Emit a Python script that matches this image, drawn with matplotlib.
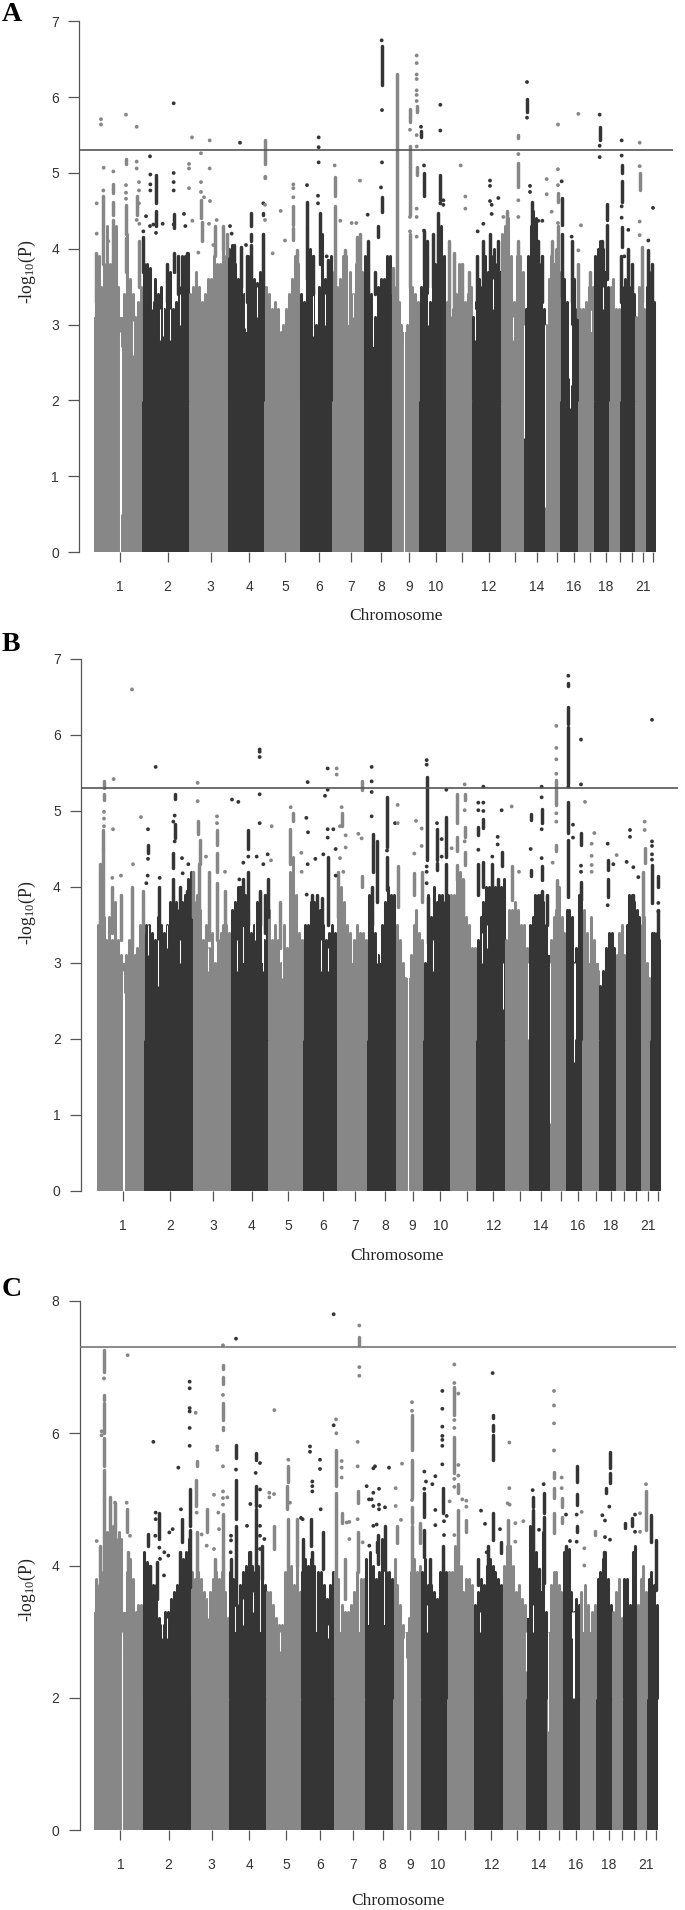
import numpy as np
import matplotlib
matplotlib.use("Agg")
import matplotlib.pyplot as plt

GRAY = "#878787"
DARK = "#353535"
LINE = "#555555"
W, H = 685, 1910

tick_labels = ["1","2","3","4","5","6","7","8","9","10","","12","","14","","16","","18","","","21",""]

A_bounds = [43,187,327,443,553,659,757,851,935,1018,1097,1176,1263,1333,1395,1441,1495,1542,1588,1621,1665,1697,1727]
A_ticks = [120,263,392,507,616,718,813,904,987,1068,1146,1226,1305,1370,1431,1481,1531,1578,1619,1655,1689,1720]
A_floor = [3.1,2.7,2.9,2.9,2.7,2.8,3.0,2.7,2.9,3.2,2.9,2.7,3.0,3.0,2.9,2.5,2.9,3.0,2.6,2.9,2.9,2.9]
A_tops = [
 [3.5,3.9,3.5,3.8,4.3,3.8,3.7,4.3,3.5,2.8,3.4,4.2,3.6,3.4,3.1,3.3,3.5],
 [3.8,3.8,3.75,3.3,3.6,3.4,3.5,3.2,3.4,3.7,3.2,3.3,3.5,3.9,3.9,3.95],
 [3.4,3.5,3.7,3.5,3.3,3.4,3.6,3.6,3.9,3.8,3.8,4.0,3.9],
 [4.0,4.05,3.8,3.6,4.03,3.4,3.9,3.9,3.6,3.55,3.7,4.2],
 [3.5,3.4,3.2,3.3,3.2,2.9,3.0,3.2,3.4,3.6,3.9,3.8],
 [3.4,3.3,4.3,4.0,3.5,3.0,3.5,4.2,3.6,3.5,3.9],
 [3.7,3.5,3.6,3.9,3.9,3.7,3.4,3.8,3.9,3.7],
 [3.9,3.8,3.4,3.1,3.5,3.6,3.6,3.9,3.9],
 [3.4,3.5,3.3,3.0,2.2,3.0,3.6,3.5,3.4,3.3],
 [3.5,3.6,3.9,3.3,3.5,3.8,4.2,4.3,3.9],
 [3.3,3.1,3.2,3.4,3.8,3.5,3.3,3.4,3.5],
 [3.1,3.3,3.6,3.5,3.9,3.7,3.9,4.0,3.8,3.7],
 [4.2,4.3,4.4,3.9,3.3,3.9,3.9,3.7],
 [3.2,3.9,4.3,4.5,4.4,3.8,3.4,3.2],
 [3.0,3.6,3.9,3.8,4.0,3.7],
 [3.7,3.6,3.3,2.9,3.4,3.6,3.2],
 [3.2,3.2,3.3,3.5,3.5],
 [3.9,4.0,4.1,4.0,3.7,3.5],
 [3.5,3.6,3.2,3.2],
 [3.5,3.6,3.4,3.5,3.4],
 [3.1,3.5,3.6,3.2],
 [3.5,3.7,3.4,3.3],
]
A_stems = [(70,4.42,4.69),(70,3.8,4.4),(100,4.74,4.86),(100,4.45,4.62),(100,3.7,4.38),(138,4.2,4.58),(138,3.7,4.14),(138,5.12,5.19),(48,3.3,3.95),
 (228,4.3,4.5),(228,4.6,4.97),(190,3.7,4.15),(281,4.28,4.46),(281,3.7,3.95),(320,3.7,3.95),(295,3.4,3.9),(262,3.3,3.8),(172,4.45,4.7),(178,3.5,4.1),
 (363,4.4,4.65),(365,4.1,4.35),(405,3.9,4.3),(428,4.0,4.3),(440,3.9,4.2),(462,3.6,4.05),(483,3.5,4.03),(513,4.3,4.47),(513,4.1,4.2),(512,3.6,4.05),(500,3.3,3.9),(548,3.5,4.2),(556,5.12,5.43),(550,4.45,4.47),(640,4.31,4.56),(640,4.12,4.27),(652,3.6,3.98),(681,3.6,4.62),(720,3.8,4.47),(700,3.4,3.9),(745,3.4,3.85),
 (764,4.7,4.95),(764,3.2,4.57),(795,3.4,3.98),(830,3.5,4.15),(840,3.5,4.2),(863,3.4,4.1),(885,3.4,3.7),
 (905,6.16,6.67),(905,4.48,4.68),(895,4.15,4.3),(938,3.4,3.75),(950,3.0,6.31),(990,5.67,5.85),(990,5.08,5.35),(990,4.45,5.08),(990,3.5,4.2),(1010,5.81,5.88),(1010,4.97,5.08),(1023,5.48,5.55),(1032,4.69,5.0),(1032,3.6,4.24),(1081,4.64,4.97),(1075,3.63,4.47),(1060,3.5,4.2),(1040,3.5,4.1),
 (1107,3.1,4.1),(1122,3.2,3.95),(1145,3.3,3.8),(1168,3.2,3.7),(1191,3.2,3.9),(1210,3.4,4.1),(1230,3.5,4.2),(1255,3.5,4.1),(1280,3.9,4.5),(1315,5.46,5.5),(1315,4.82,5.13),(1315,3.6,4.1),(1341,5.81,5.98),(1355,3.81,4.62),(1375,3.5,4.1),(1385,3.3,3.9),(1415,3.5,4.1),(1434,4.62,4.73),(1435,3.5,4.3),(1446,4.31,4.67),(1446,3.37,4.2),(1475,3.3,4.1),(1495,3.1,3.8),(1530,3.2,3.7),
 (1559,5.44,5.61),(1580,4.38,4.59),(1580,3.6,4.31),(1565,3.6,4.1),(1625,4.62,4.89),(1625,5.0,5.1),(1625,4.03,4.29),(1622,3.3,3.9),(1645,3.4,4.0),(1655,3.3,3.8),(1679,4.78,5.0),(1685,3.3,4.03),(1705,3.5,3.98),(1715,3.3,3.8)]
A_points = [(63,5.71),(63,5.64),(138,5.77),(170,5.61),(281,5.92),(336,5.47),(389,5.43),(480,5.4),(363,5.26),(210,5.22),(389,5.06),(71,5.07),(100,5.02),(170,5.15),(170,5.06),(327,5.12),(327,5.06),(281,5.0),(211,4.98),(281,4.88),(281,4.77),(211,4.85),(211,4.77),(327,4.8),(228,4.21),(198,4.43),(248,4.33),(312,4.46),(316,4.3),(281,4.32),(210,4.3),(220,4.32),(190,4.23),(177,4.88),(177,4.77),(177,4.6),(170,4.38),(178,4.33),(85,4.1),(50,4.6),(50,4.2),(70,4.77),(138,4.84),(138,4.74),(138,4.66),
 (363,4.88),(363,4.75),(372,4.68),(390,4.63),(337,4.37),(387,4.33),(410,4.38),(355,3.95),(400,4.05),(450,4.3),(455,4.2),(498,4.05),(550,4.6),(556,4.95),(556,4.93),(555,4.58),(555,4.38),(602,4.5),(615,4.11),(578,3.94),(640,4.85),(640,4.8),(640,4.68),(681,4.84),(714,4.7),(714,4.6),(716,5.47),(716,5.34),(716,5.14),(740,3.9),(764,5.1),(840,4.9),(781,4.37),(815,4.34),(829,4.34),(863,4.45),
 (905,6.75),(906,5.83),(906,5.14),(903,4.81),(990,5.57),(1010,6.55),(1010,6.45),(1010,6.3),(1010,6.24),(1010,6.09),(1010,6.03),(1010,5.95),(1010,5.5),(1010,5.35),(1010,4.53),(1010,4.42),(1010,4.16),(990,4.42),(990,4.23),(1023,5.61),(1032,5.1),(1032,4.24),(1081,5.9),(1081,5.56),(1081,4.6),(1090,4.64),(1090,4.58),(1142,5.1),(1156,4.69),(1156,4.53),(1230,4.9),(1230,4.83),(1230,4.63),(1255,4.67),(1235,4.58),(1235,4.46),(1210,4.33),(1193,4.23),(1270,4.42),(1315,5.25),(1315,4.64),(1315,4.42),(1341,6.2),(1341,5.73),(1350,4.83),(1350,4.75),(1375,4.37),(1387,4.37),(1400,4.92),(1400,4.72),(1415,4.49),(1434,5.64),(1434,5.05),(1434,4.84),(1434,4.34),(1445,4.89),(1495,5.78),(1503,4.31),(1475,4.16),(1495,3.98),
 (1559,5.77),(1559,5.36),(1559,5.21),(1625,5.43),(1625,5.23),(1625,4.56),(1625,4.41),(1679,5.4),(1679,5.09),(1679,4.36),(1679,4.18),(1719,4.54),(1705,4.11),(1645,4.25),(1633,3.9)]
A_gaps = [(121,0,2.9),(123,0.5,2.7),(971,0,3.0),(973,0,2.8),(1396,0.6,3.0),(1299,2.8,3.1),(1468,2.3,3.0),(1470,1.9,3.0),(1472,2.2,3.0),(1332,1.5,3.0),
 (240,2.8,3.2),(250,2.85,3.3),(270,2.8,3.2),(495,2.95,3.55),(700,2.85,3.5),(820,3.1,3.4),(880,2.8,3.55),(160,2.6,3.05),(1045,3.0,3.4),(1185,2.8,3.2),(1240,3.2,3.6),(1570,3.2,3.5),(215,3.2,3.5),(300,3.0,3.4),(530,3.1,3.5),(735,3.0,3.4)]

B_bounds = [50,193,338,452,564,670,770,862,947,1030,1109,1189,1275,1346,1409,1457,1507,1557,1607,1637,1682,1711,1742]
B_ticks = [128,271,400,515,624,728,825,915,998,1081,1160,1240,1319,1383,1444,1494,1547,1593,1632,1668,1703,1734]
B_floor = [3.0,3.0,2.8,3.0,2.8,3.0,3.0,3.0,2.8,2.9,2.9,2.9,3.0,3.1,2.9,2.5,3.0,2.6,2.7,3.0,2.6,2.6]
B_tops = [
 [3.5,3.9,3.6,3.3,3.6,3.3,3.8,3.3,3.1,2.8,3.1,3.3,3.5,3.1,3.2,3.5,3.7],
 [3.5,3.5,3.4,3.3,3.6,3.5,3.4,3.5,3.8,3.9,3.8,3.7,3.8,3.9,4.1,4.2],
 [3.8,3.9,3.7,3.3,3.5,3.2,3.4,3.0,3.3,3.4,3.5,3.5,3.4],
 [3.7,3.8,4.0,4.0,3.9,3.7,3.4,3.5,3.8,3.9,3.3,3.6],
 [3.7,3.3,3.5,3.3,3.0,3.5,3.2,4.2,4.4,3.9,3.4,3.3],
 [3.5,3.5,3.8,3.8,3.8,3.7,3.5,3.3,3.4,3.5,3.4],
 [3.9,4.0,3.8,3.5,3.4,3.3,3.5,3.4,3.4,3.3],
 [3.9,3.7,3.4,3.1,3.5,3.8,4.0,3.9,3.9],
 [3.5,3.3,3.0,2.8,2.2,3.1,3.5,3.7,3.4,3.3],
 [3.0,3.9,3.6,4.0,3.8,3.9,3.9,3.8,3.9],
 [3.9,3.9,4.2,4.2,4.1,3.6,3.5,3.2,3.2],
 [3.3,3.6,3.8,4.0,4.0,3.9,4.0,3.9,4.0,4.1],
 [3.3,3.7,3.7,3.8,3.7,3.5,3.5,3.2],
 [3.5,3.6,3.9,3.9,3.9,3.8,3.5,3.0],
 [3.3,3.6,3.7,4.0,3.6,3.4],
 [3.7,3.7,3.6,3.0,3.2,3.9,4.0],
 [3.7,3.4,3.6,3.3,2.9],
 [2.7,2.9,3.2,3.4,3.4,3.2],
 [3.1,3.4,3.5,3.1],
 [3.5,3.9,3.9,3.8,3.7,3.6],
 [3.5,3.6,3.0,2.8],
 [3.4,3.4,3.4,3.3],
]
B_stems = [(72,5.3,5.39),(72,5.15,5.22),(70,4.5,4.75),(68,3.6,4.5),(60,3.5,4.3),(97,3.4,4.0),(123,3.3,3.9),(155,3.2,4.0),(190,3.4,3.95),(285,5.16,5.22),(280,4.25,4.45),(284,4.65,4.83),(278,3.6,4.1),(204,4.45,4.55),(238,3.5,4.0),(300,3.6,4.0),(320,3.6,3.95),(338,3.6,4.2),
 (353,4.7,4.87),(360,4.3,4.62),(356,3.5,4.3),(411,4.55,4.75),(411,4.2,4.45),(411,3.3,4.05),(388,3.3,4.2),(436,3.4,3.95),(505,4.5,4.75),(505,3.5,4.2),(480,3.5,4.0),(490,3.5,4.1),(540,3.5,3.95),(555,3.4,3.9),(563,3.6,4.1),(600,3.2,3.8),(630,4.3,4.76),(639,4.87,4.98),
 (785,4.8,4.98),(775,3.6,4.2),(743,3.5,4.4),(725,3.5,3.85),(710,3.6,3.9),(695,3.5,3.9),(845,5.28,5.39),(845,4.0,4.15),(880,4.2,4.7),(876,3.5,4.0),(890,3.8,4.6),(921,4.53,5.18),(921,3.96,4.4),(953,3.74,4.27),(1040,4.36,5.45),(1043,3.26,3.87),(1003,3.9,4.18),(1025,3.8,4.2),(1071,4.35,4.76),(1071,4.22,4.31),(1099,4.4,4.92),(1097,3.7,4.3),(1130,4.84,5.22),(1130,4.48,4.66),(1130,4.09,4.29),(1154,4.66,4.79),(1154,5.14,5.23),(1154,4.29,4.46),(1150,3.48,4.09),
 (1195,4.68,4.79),(1195,3.9,4.3),(1210,4.77,4.9),(1210,4.0,4.33),(1237,3.8,4.3),(1253,3.6,4.1),(1265,4.27,4.46),(1295,3.83,4.27),(1352,4.14,4.22),(1352,4.88,4.96),(1385,4.84,5.03),(1385,4.09,4.27),(1385,3.5,3.95),(1400,3.5,3.9),(1429,5.08,5.41),(1429,4.47,4.55),(1430,3.48,4.09),(1465,6.64,6.68),(1465,6.15,6.37),(1465,5.36,6.11),(1465,4.71,5.12),(1465,3.87,4.62),(1503,4.55,4.71),(1503,3.83,4.07),(1583,4.22,4.35),(1583,3.87,4.11),(1650,3.4,3.8),(1660,3.4,3.9),(1694,4.31,4.51),(1690,3.5,4.2),(1716,3.79,4.29),(1735,4.0,4.14),(1733,3.3,3.7)]
B_points = [(156,6.6),(227,5.58),(101,5.42),(72,4.99),(72,4.9),(72,4.8),(99,4.76),(183,4.92),(159,4.3),(123,4.15),(97,4.12),(284,4.94),(280,4.86),(284,4.6),(204,4.76),(204,4.37),(203,4.15),(199,4.05),(239,4.12),(306,4.38),(325,4.3),(308,4.18),
 (353,5.37),(353,5.13),(378,4.4),(411,4.93),(411,4.84),(435,4.2),(456,5.15),(475,5.12),(539,5.81),(539,5.78),(539,5.71),(539,5.22),(539,4.84),(575,4.8),(505,4.4),(490,4.32),(478,4.1),(530,4.4),(550,4.3),(563,4.43),(573,4.35),(632,5.05),(664,4.45),(679,4.91),(683,5.38),(684,4.72),(706,4.37),(683,4.3),(665,4.2),(680,3.9),(743,5.56),(770,5.56),(770,5.48),(743,5.28),(735,5.2),(743,4.76),(760,4.76),(743,4.65),(730,4.43),(767,4.5),(780,4.38),(767,4.15),(785,5.05),(780,4.8),(797,4.68),(797,4.52),(790,4.2),(835,4.7),(845,4.64),(875,5.58),(875,5.39),(875,5.25),(875,4.93),
 (921,4.48),(953,5.08),(945,4.84),(953,4.84),(1040,5.67),(1040,5.61),(1040,4.27),(1040,4.2),(1040,4.05),(1008,4.87),(1025,4.77),(1025,4.54),(1003,4.44),(1071,4.84),(1099,5.28),(1085,4.63),(1085,4.4),(1154,5.35),(1154,5.01),(1154,4.6),(1115,4.51),(1195,5.11),(1195,5.01),(1195,4.49),(1210,5.32),(1210,5.11),(1210,5.0),(1237,4.4),(1253,4.66),(1253,4.56),(1265,5.01),(1295,5.06),(1317,4.2),(1352,4.5),(1385,5.32),(1385,5.18),(1385,4.76),(1385,4.38),(1429,6.12),(1429,5.83),(1429,5.68),(1429,5.49),(1429,4.97),(1429,4.86),(1418,4.32),(1465,6.78),(1465,5.32),
 (1503,5.94),(1503,5.35),(1515,5.12),(1479,4.82),(1479,4.65),(1503,4.28),(1503,4.2),(1543,4.71),(1535,4.57),(1535,4.41),(1535,4.29),(1535,4.2),(1583,4.57),(1583,3.76),(1600,4.3),(1610,4.42),(1650,4.75),(1650,4.66),(1640,4.33),(1660,4.26),(1675,4.13),(1694,4.86),(1694,4.75),(1716,6.2),(1716,4.6),(1716,4.54),(1716,4.43),(1716,4.36),(1735,3.79),(1735,3.68)]
B_gaps = [(129,0,2.9),(131,0,2.6),(983,0,2.9),(985,0,3.0),(1410,0.9,3.0),(1482,1.7,3.0),(1484,2.0,3.0),(1345,2.0,3.0),(1270,2.4,3.0),
 (235,2.7,3.3),(205,3.1,3.5),(300,3.0,3.3),(385,2.9,3.2),(470,2.9,3.3),(548,2.9,3.5),(605,2.8,3.3),(722,2.9,3.3),(745,2.9,3.2),(890,3.0,3.4),(1060,2.9,3.3),(1205,3.0,3.4),(525,3.3,3.7),(260,3.2,3.5),(1220,3.2,3.5)]

C_bounds = [43,188,332,447,558,663,762,855,940,1023,1102,1181,1268,1339,1402,1448,1500,1549,1596,1629,1670,1702,1734]
C_ticks = [121,266,395,508,619,720,818,908,991,1074,1154,1234,1312,1377,1437,1487,1539,1586,1627,1661,1697,1727]
C_floor = [3.3,3.0,3.1,3.0,2.8,3.0,3.0,3.1,3.0,3.2,3.1,3.0,3.3,3.2,3.0,2.5,3.0,3.2,2.8,3.0,3.0,2.8]
C_tops = [
 [3.8,3.7,3.9,4.1,4.5,4.3,4.6,4.4,4.5,4.4,3.1,3.9,4.1,3.8,3.3,3.4,3.4],
 [4.2,4.05,4.0,3.7,3.7,3.2,3.1,3.3,3.3,3.5,3.6,3.7,3.8,4.1,4.2,4.4],
 [3.9,3.8,3.9,3.8,3.6,3.5,3.6,3.8,3.9,3.8,3.9,3.6,3.2],
 [3.9,3.8,3.4,3.7,3.9,4.0,4.2,4.0,3.9,4.0,4.0,3.7],
 [3.6,3.6,3.4,3.2,3.1,3.1,3.9,4.3,4.0,3.7,4.1,3.6],
 [3.9,4.1,4.0,4.1,4.0,3.9,3.9,3.7,3.5,3.7,3.9],
 [3.9,3.8,3.4,3.3,3.3,3.4,3.6,3.9,3.8,3.8],
 [4.1,4.2,4.0,3.8,3.9,4.4,3.9,3.9,3.8],
 [4.1,3.7,3.4,3.1,2.6,3.2,3.9,4.1,3.9,4.0],
 [3.9,4.1,3.7,3.7,3.6,3.5,3.9,4.0,3.9],
 [3.9,3.9,4.3,4.2,4.0,3.6,3.8,3.8,3.7],
 [3.4,3.6,3.8,3.7,4.0,4.1,4.0,3.9,3.8,3.7],
 [4.0,4.3,4.3,4.0,3.6,3.7,3.5,3.4],
 [3.1,4.6,4.8,4.2,3.4,3.6,4.5,3.3],
 [2.9,3.7,3.9,3.9,3.7,3.6],
 [4.2,4.25,4.25,3.6,3.3,3.5,3.4],
 [3.6,3.7,3.4,3.3,3.4],
 [3.8,3.9,4.1,4.2,3.8,3.4],
 [3.3,3.6,3.8,3.2],
 [3.8,3.8,3.4,4.2,4.3],
 [3.4,3.8,4.0,3.6],
 [3.8,3.9,3.7,3.4],
]
C_stems = [(72,6.93,7.26),(72,6.5,6.58),(72,6.0,6.45),(72,5.5,5.93),(72,5.0,5.45),(72,3.6,5.0),(60,3.5,4.3),(90,3.6,5.03),(105,3.5,4.95),(140,4.5,4.85),(145,3.5,4.2),(204,4.3,4.48),(329,4.59,5.16),(329,3.68,4.54),(305,4.35,4.7),(238,4.4,4.8),(210,3.7,4.0),(232,3.5,4.05),(300,3.6,4.2),(348,4.9,5.3),(351,5.5,5.58),
 (429,6.97,7.03),(429,6.75,6.85),(429,6.2,6.45),(429,6.05,6.1),(380,4.5,4.85),(429,3.6,4.78),(350,3.6,4.5),(405,3.5,4.1),(468,5.62,5.82),(468,4.7,5.3),(468,3.4,4.6),(527,5.6,5.7),(527,4.9,5.2),(527,3.9,4.85),(545,3.8,4.3),(510,3.8,4.2),(453,3.6,4.1),(583,4.25,4.6),(625,5.27,5.5),(620,4.85,5.2),(625,3.7,4.7),(652,4.0,4.7),(693,4.3,4.7),(668,3.9,4.4),(730,3.95,4.5),(697,3.8,4.2),(769,5.2,5.75),(769,3.8,5.1),(785,4.65,4.8),(795,3.5,4.1),(838,7.33,7.45),(833,4.95,5.12),(833,3.9,4.5),(892,4.2,4.35),(893,4.03,4.46),
 (915,3.93,4.59),(950,4.34,4.59),(996,5.75,6.28),(996,5.02,5.6),(996,4.64,4.89),(996,3.8,4.6),(1020,4.34,4.64),(1033,4.74,5.09),(1033,4.13,4.54),(1050,3.6,4.1),(1090,4.79,5.17),(1090,3.7,4.3),(1123,6.28,6.7),(1123,5.4,5.95),(1135,5.09,5.24),(1135,4.08,4.84),(1159,4.5,4.69),(1195,3.7,4.1),(1225,3.9,4.3),(1238,6.23,6.28),(1238,6.03,6.13),(1238,5.6,5.98),(1238,4.39,4.79),(1262,4.19,4.36),(1285,4.08,4.69),(1358,4.89,5.04),(1358,3.73,4.84),(1391,4.79,5.09),(1391,3.73,4.74),(1377,3.4,3.95),(1422,5.32,5.42),(1422,5.02,5.17),(1422,4.49,4.79),(1445,4.89,5.02),(1445,4.64,4.74),(1458,3.7,4.3),(1490,5.27,5.5),(1490,4.92,5.08),(1490,4.51,4.59),(1545,4.46,4.52),(1589,5.47,5.71),(1589,5.25,5.4),(1577,5.09,5.17),(1573,3.7,4.2),(1635,4.56,4.65),(1657,4.59,4.72),(1698,4.54,5.12),(1713,4.36,4.77),(1728,3.63,4.39)]
C_points = [(65,6.03),(65,5.97),(72,6.83),(143,7.18),(105,4.95),(50,4.37),(140,4.95),(150,4.45),(220,5.87),(295,5.48),(329,6.78),(329,6.68),(329,6.38),(329,6.33),(329,6.08),(329,5.81),(347,6.31),(350,4.8),(303,4.85),(227,4.8),(227,4.7),(226,4.45),(268,4.5),(278,4.55),(238,4.27),(253,4.2),(265,4.15),(240,4.1),(252,3.85),
 (412,5.8),(412,5.75),(429,7.33),(429,6.58),(429,5.5),(429,5.12),(429,5.02),(429,4.92),(442,5.03),(402,5.07),(415,4.8),(417,4.55),(365,4.47),(380,4.3),(402,4.25),(468,7.43),(468,5.45),(527,5.4),(540,5.55),(540,5.15),(511,4.93),(540,4.9),(501,4.6),(453,4.45),(453,4.38),(452,4.2),(540,4.6),(553,4.4),(540,4.45),(540,4.25),(583,6.35),(568,5.1),(568,5.03),(582,5.08),(625,5.6),(630,4.95),(663,4.72),(690,5.8),(690,5.72),(720,5.6),(720,5.46),(697,5.27),(697,5.2),(697,5.12),(722,4.85),(668,4.7),
 (761,7.8),(768,6.21),(761,6.12),(769,6.0),(785,5.58),(785,5.48),(785,5.33),(800,4.65),(808,4.66),(808,4.4),(838,7.63),(838,7.0),(838,6.87),(833,5.87),(833,5.5),(833,4.7),(848,4.35),(880,5.47),(860,5.2),(880,5.1),(867,5.0),(875,5.0),(880,4.9),(897,5.16),(897,4.85),(880,4.6),(868,4.3),
 (885,5.5),(927,5.48),(966,5.54),(947,5.17),(947,4.9),(963,4.69),(897,4.92),(915,4.88),(890,4.62),(996,6.47),(996,6.34),(996,4.99),(1033,5.42),(1033,5.16),(1038,5.27),(1057,5.23),(1066,5.35),(1066,4.84),(1066,4.61),(1087,6.64),(1087,6.37),(1087,6.1),(1087,5.96),(1087,5.9),(1087,5.81),(1087,5.53),(1092,4.67),(1092,4.46),(1100,4.75),(1123,7.04),(1123,6.76),(1123,6.2),(1123,6.08),(1123,5.31),(1123,5.19),(1123,4.46),(1135,6.6),(1135,5.52),(1135,5.36),(1147,5.0),(1159,4.98),(1159,4.89),(1109,4.97),
 (1238,6.91),(1288,5.86),(1288,5.17),(1283,4.94),(1289,4.92),(1306,4.64),(1306,4.36),(1330,4.67),(1203,4.83),(1215,4.63),(1260,4.55),(1220,4.2),(1358,5.14),(1391,5.23),(1377,4.54),(1422,6.64),(1422,6.42),(1422,6.15),(1422,5.74),(1445,5.33),(1445,5.17),(1458,4.77),(1470,4.37),(1490,4.77),(1490,4.36),(1505,4.81),(1513,4.26),(1513,4.0),(1588,4.89),(1567,4.76),(1575,4.68),(1575,4.43),(1590,4.39),(1665,4.77),(1665,4.51),(1680,4.79),(1680,4.51),(1698,5.23)]
C_gaps = [(125,0,3.0),(127,0,2.7),(973,0,2.9),(975,0,3.0),(977,0,2.6),(1403,1.5,3.0),(1478,2.0,3.3),(1481,2.0,3.3),(1338,2.4,3.0),
 (245,2.9,3.3),(262,2.9,3.2),(385,3.2,3.6),(490,3.1,3.5),(600,2.7,3.0),(745,2.9,3.1),(1040,3.0,3.4),(1200,3.0,3.3),(1360,3.0,3.4),(1475,2.9,3.3),(250,3.3,3.6),(520,3.3,3.6)]

panels = [
 dict(n="A", bounds=A_bounds, ticks=A_ticks, floor=A_floor, tops=A_tops, stems=A_stems, pts=A_points, gaps=A_gaps, thr=5.3, yt=[0,1,2,3,4,5,6,7],
      y0=552, ytop=21.4, spine=-2, hl_end=1779, hl_col="#555555", xl=396, xl_y=616, yl_y=272, letter_y=21),
 dict(n="B", bounds=B_bounds, ticks=B_ticks, floor=B_floor, tops=B_tops, stems=B_stems, pts=B_points, gaps=B_gaps, thr=5.3, yt=[0,1,2,3,4,5,6,7],
      y0=1191, ytop=659, spine=3, hl_end=1794, hl_col="#555555", xl=397, xl_y=1256, yl_y=913, letter_y=651),
 dict(n="C", bounds=C_bounds, ticks=C_ticks, floor=C_floor, tops=C_tops, stems=C_stems, pts=C_points, gaps=C_gaps, thr=7.3, yt=[0,2,4,6,8],
      y0=1830, ytop=1301, spine=-1.5, hl_end=1788, hl_col="#777777", xl=398, xl_y=1901, yl_y=1590, letter_y=1296),
]

SANS = "Liberation Sans"
SERIF = "Liberation Serif"
plt.rcParams["mathtext.fontset"] = "custom"
plt.rcParams["mathtext.rm"] = SERIF
plt.rcParams["mathtext.default"] = "rm"
fig = plt.figure(figsize=(W/100, H/100), dpi=100, facecolor="white")

for p in panels:
    ax = fig.add_axes([80/W, 1 - p["y0"]/H, 600/W, (p["y0"]-p["ytop"])/H])
    ax.set_xlim(0, 1800)
    ax.set_ylim(0, p["yt"][-1])
    ax.patch.set_alpha(0)
    bounds = np.array(p["bounds"], float)
    cols = [GRAY, DARK]
    ax.bar(bounds[:-1], p["floor"], width=np.diff(bounds), align="edge",
           color=[cols[i % 2] for i in range(22)], linewidth=0, zorder=2)
    # chromosome column tops, spread across each chromosome's span
    for i, tops in enumerate(p["tops"]):
        xs = np.linspace(bounds[i] + 4, bounds[i+1] - 4, len(tops))
        lc = ax.vlines(xs, 2.0, tops, colors=cols[i % 2], lw=2.2, zorder=2.5)
        lc.set_capstyle("round")

    def colour(xs):
        idx = np.clip(np.searchsorted(bounds, xs, side="right") - 1, 0, 21)
        return [cols[j % 2] for j in idx]

    gx, glo, ghi = map(np.array, zip(*p["gaps"]))
    ax.vlines(gx, glo, ghi, colors="white", lw=0.75, zorder=3)
    sx, slo, shi = map(np.array, zip(*p["stems"]))
    lc = ax.vlines(sx, slo, shi, colors=colour(sx), lw=2.5, zorder=4, clip_on=False)
    lc.set_capstyle("round")
    px, py = map(np.array, zip(*p["pts"]))
    ax.scatter(px, py, s=7.5, c=colour(px), linewidths=0, zorder=5, clip_on=False)
    ax.hlines(p["thr"], p["spine"], p["hl_end"], color=p["hl_col"], lw=1.2, zorder=6, clip_on=False)
    for s in ("top", "right", "bottom"):
        ax.spines[s].set_visible(False)
    sp = ax.spines["left"]
    sp.set_position(("data", p["spine"]))
    sp.set_bounds(0, p["yt"][-1])
    sp.set_color(LINE)
    sp.set_linewidth(0.9)
    ax.set_yticks(p["yt"])
    ax.set_yticklabels([str(v) for v in p["yt"]], fontfamily=SANS, fontsize=10, color="#333333")
    ax.tick_params(axis="y", length=7.6, width=0.9, color=LINE, pad=7)
    ax.set_xticks(p["ticks"])
    ax.set_xticklabels(tick_labels, fontfamily=SANS, fontsize=10, color="#333333")
    ax.tick_params(axis="x", length=7.2, width=0.9, color=LINE, pad=13)
    fig.text(p["xl"]/W, 1 - p["xl_y"]/H, "Chromosome", fontfamily=SERIF, fontsize=12.5, color="#222222",
             ha="center", va="center")
    fig.text(27/W, 1 - p["yl_y"]/H, r"-log$_{10}$(P)", fontfamily=SERIF, fontsize=12.8, color="#222222",
             ha="center", va="center", rotation=90)
    fig.text(2/W, 1 - p["letter_y"]/H, p["n"], fontfamily=SERIF, fontsize=20, fontweight="bold",
             color="black", ha="left", va="baseline")

fig.savefig("out.png", dpi=100)
